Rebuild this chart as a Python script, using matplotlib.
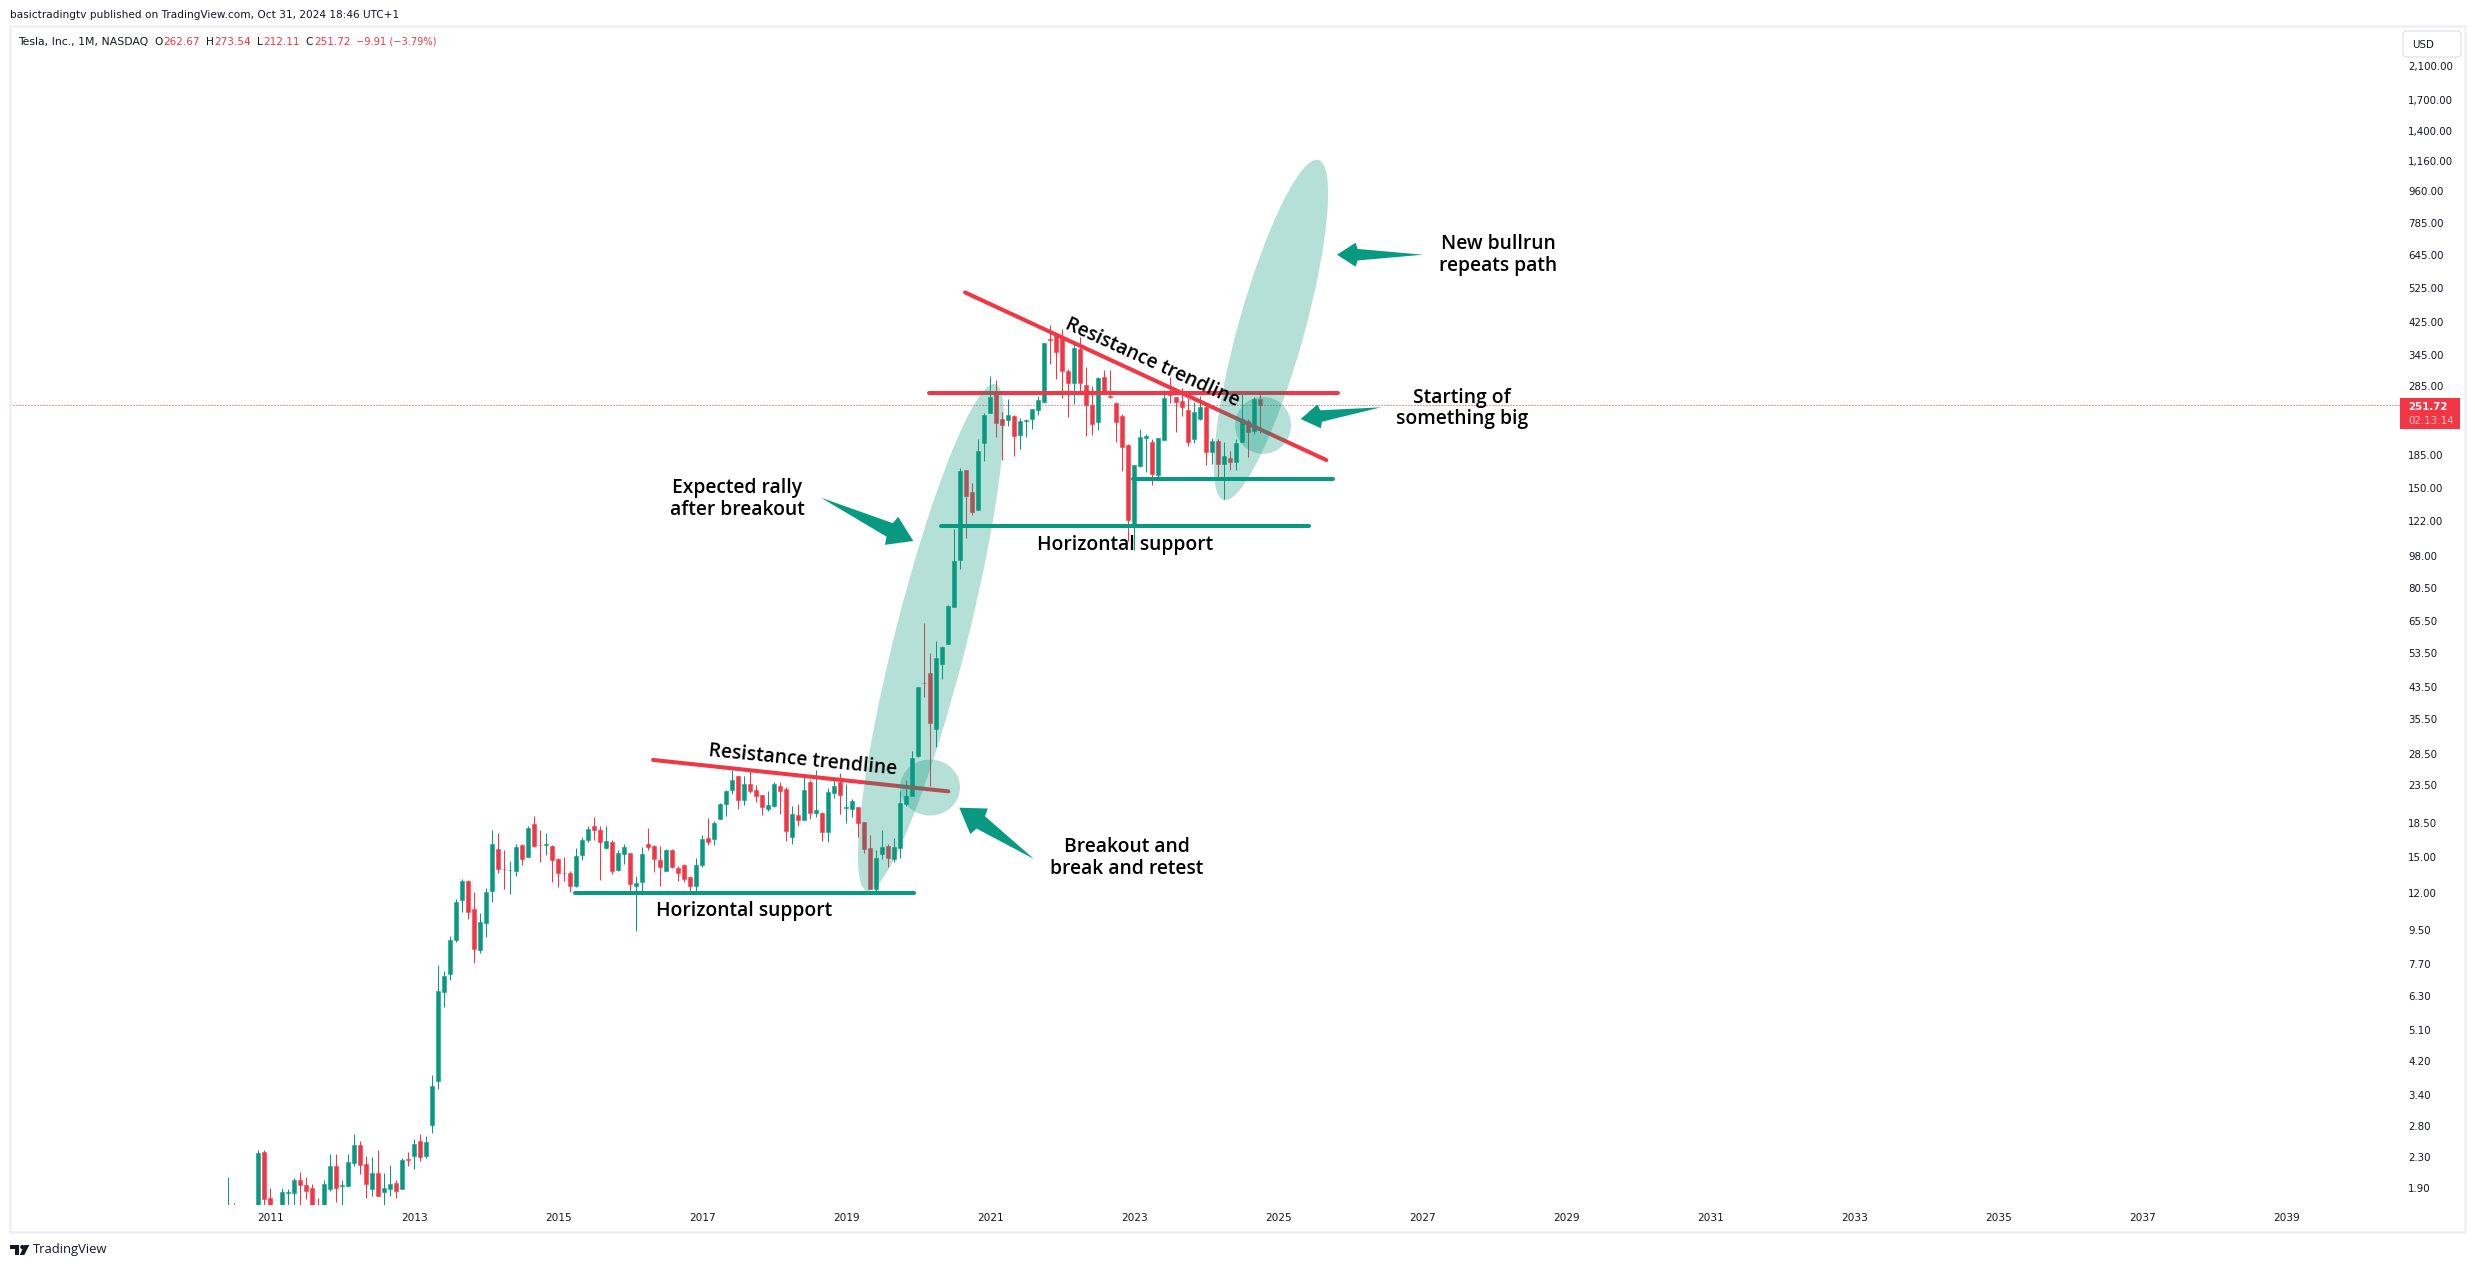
import numpy as np
import matplotlib
matplotlib.use("Agg")
import matplotlib.pyplot as plt
from matplotlib.patches import Ellipse, Polygon, Rectangle, Circle, FancyBboxPatch

# Monthly TSLA candles, Jun 2010 .. Oct 2024
opens = [1.27, 1.60, 1.46, 1.31, 1.37, 1.45, 2.38, 1.78, 1.60, 1.60, 1.84, 1.84, 1.99, 1.93, 1.90, 1.65,
         1.62, 1.89, 2.18, 1.92, 1.92, 2.22, 2.48, 2.20, 1.89, 2.08, 1.85, 1.89, 1.96, 1.88, 2.27, 2.32,
         2.54, 2.32, 2.81, 3.71, 6.45, 7.22, 8.94, 11.48, 12.93, 10.86, 8.40, 9.94, 12.13, 15.80, 13.92, 13.80,
         13.76, 16.20, 15.00, 18.40, 16.20, 16.20, 16.10, 14.85, 13.60, 13.53, 12.55, 15.20, 16.70, 18.15, 17.80, 15.90,
         16.50, 13.85, 15.30, 15.40, 12.55, 12.85, 16.30, 16.10, 14.70, 13.70, 15.70, 14.00, 14.25, 13.20, 12.50, 14.25,
         16.90, 16.80, 19.00, 20.90, 22.80, 24.80, 21.40, 23.70, 22.80, 22.10, 20.20, 20.60, 23.40, 23.00, 17.00, 19.50,
         18.90, 24.00, 19.80, 19.80, 17.50, 22.40, 24.00, 20.40, 20.20, 20.50, 18.70, 15.90, 12.30, 15.30, 16.10, 14.80,
         15.90, 20.90, 21.90, 28.20, 44.60, 47.30, 33.40, 50.10, 56.70, 71.50, 95.90, 168.5, 147, 131, 199, 240,
         272, 231, 230, 236, 209, 229, 231, 245, 258, 381, 391, 384, 313, 289, 358, 286,
         252, 227, 301, 267, 255, 235, 197, 118.5, 173, 206, 200, 163, 203, 275, 266, 259,
         245, 204, 232, 250, 188, 202, 175, 181, 177, 200, 228, 214, 262.67]
highs = [2.03, 1.73, 1.50, 1.45, 1.50, 2.40, 2.41, 1.90, 1.68, 1.90, 1.88, 2.02, 2.10, 2.03, 1.94, 1.78,
         1.99, 2.34, 2.34, 1.99, 2.34, 2.65, 2.55, 2.32, 2.30, 2.40, 2.08, 2.19, 2.00, 2.29, 2.38, 2.57,
         2.65, 2.62, 3.85, 7.65, 7.36, 9.17, 11.55, 13.04, 12.98, 12.06, 10.55, 12.38, 17.71, 17.37, 15.70, 14.60,
         16.30, 16.30, 18.15, 19.40, 17.70, 17.37, 16.20, 14.95, 15.00, 13.76, 15.90, 16.95, 18.15, 19.20, 18.15, 18.15,
         16.70, 15.70, 16.30, 15.40, 13.30, 16.00, 18.00, 16.20, 16.10, 15.80, 15.80, 14.20, 14.40, 13.30, 14.95, 17.20,
         19.10, 18.80, 21.00, 22.80, 25.80, 24.80, 24.80, 25.60, 23.50, 22.10, 22.70, 24.00, 23.90, 23.20, 20.60, 20.90,
         24.90, 24.30, 25.80, 19.90, 23.10, 24.40, 25.30, 23.60, 21.50, 20.50, 18.70, 17.20, 15.70, 17.70, 16.30, 16.90,
         22.70, 24.20, 29.00, 43.40, 64.70, 53.60, 57.80, 56.00, 72.40, 116.4, 170, 168.5, 155, 204, 240, 302,
         295, 241, 262, 237, 233, 231.5, 246, 267, 373, 416, 393, 406, 317, 372, 386, 320,
         285, 301, 315, 315, 257, 238, 198, 174, 218, 210, 204, 206, 278, 300, 266, 281,
         263, 257, 267, 251, 205, 204, 200, 189, 204, 272, 232, 265, 273.54]
lows = [1.17, 1.31, 1.20, 1.29, 1.35, 1.40, 1.62, 1.50, 1.45, 1.55, 1.60, 1.65, 1.65, 1.77, 1.55, 1.50,
        1.55, 1.86, 1.74, 1.65, 1.92, 2.18, 2.07, 1.78, 1.80, 1.81, 1.65, 1.81, 1.78, 1.88, 2.18, 2.14,
        2.25, 2.29, 2.68, 3.51, 5.88, 6.96, 8.83, 10.62, 10.20, 7.74, 8.24, 9.11, 11.31, 13.53, 12.30, 11.90,
        13.28, 14.30, 15.00, 16.00, 14.50, 15.20, 12.85, 12.40, 12.90, 12.07, 12.40, 14.70, 16.50, 16.70, 13.00, 15.80,
        13.50, 13.76, 14.40, 12.13, 9.42, 12.13, 15.65, 13.64, 12.55, 13.70, 14.00, 12.90, 12.85, 11.95, 12.07, 14.10,
        16.20, 16.20, 19.00, 19.40, 22.20, 20.20, 20.80, 22.40, 21.20, 19.50, 20.00, 20.50, 19.60, 16.60, 16.30, 18.20,
        18.90, 19.00, 19.20, 16.60, 16.50, 21.70, 19.60, 18.60, 19.20, 17.00, 15.40, 12.30, 12.00, 14.80, 14.10, 14.50,
        14.90, 20.60, 21.90, 28.00, 40.70, 23.40, 29.80, 45.60, 56.70, 71.50, 90.60, 110, 127, 131, 178, 240,
        207, 179, 221, 184, 192, 207, 217, 237, 255, 327, 297, 264, 234, 254, 275, 208,
        209, 216, 270, 264, 200, 167, 108, 101.8, 171, 166, 153, 160, 203, 256, 213, 236,
        195, 199, 230, 174, 175, 159, 140, 168, 168, 200, 182, 211, 212.11]
closes = [1.59, 1.46, 1.30, 1.36, 1.46, 2.36, 1.77, 1.60, 1.59, 1.85, 1.85, 2.00, 1.93, 1.86, 1.60, 1.62,
          1.95, 2.18, 1.90, 1.93, 2.23, 2.48, 2.19, 1.95, 2.08, 1.81, 1.90, 1.95, 1.86, 2.26, 2.26, 2.50,
          2.30, 2.53, 3.58, 6.50, 7.14, 8.94, 11.29, 12.93, 10.62, 8.45, 10.00, 12.06, 16.31, 13.89, 13.90, 13.82,
          16.00, 14.83, 18.00, 16.10, 16.15, 16.30, 14.70, 13.53, 13.55, 12.55, 15.13, 16.70, 17.90, 17.70, 16.50, 16.60,
          13.76, 15.40, 16.00, 12.68, 12.76, 15.30, 16.00, 14.85, 14.10, 15.70, 14.10, 13.53, 13.10, 12.55, 14.30, 16.80,
          16.50, 18.50, 20.90, 22.70, 24.20, 21.40, 23.70, 22.70, 22.00, 20.50, 20.80, 23.70, 22.70, 17.60, 19.60, 18.90,
          22.80, 19.80, 20.10, 17.50, 22.50, 23.40, 22.10, 20.45, 21.30, 18.50, 15.80, 12.30, 14.90, 16.00, 14.90, 16.00,
          21.00, 22.00, 27.90, 43.30, 44.40, 34.60, 52.00, 55.70, 71.90, 95.30, 167.5, 143, 129.5, 190, 237, 265,
          225, 223, 237, 208, 228, 229.5, 246, 260, 373, 380, 352, 312, 289, 360, 289, 252,
          224, 299, 275, 265, 227, 194, 123, 174, 207, 208, 164, 206, 263, 269, 257, 250,
          200, 241, 249, 188, 202, 175, 184, 177, 199, 232, 213, 262, 251.72]

# labels along the axes
price_ticks = [2100, 1700, 1400, 1160, 960, 785, 645, 525, 425, 345, 285, 185, 150, 122, 98, 80.5, 65.5,
               53.5, 43.5, 35.5, 28.5, 23.5, 18.5, 15, 12, 9.5, 7.7, 6.3, 5.1, 4.2, 3.4, 2.8, 2.3, 1.9]
years = list(range(2011, 2040, 2))
last_close = closes[-1]

GREEN = "#089981"
RED = "#F23645"
DARK = "#131722"
FRAME = "#EEEFF5"
W, H = 2475, 1268
TEXT_FONT = ["Open Sans", "DejaVu Sans"]

fig = plt.figure(figsize=(W / 100, H / 100), dpi=100, facecolor="white")

# chart pane, x is the bar number (0 = Jun 2010, 6 px per bar)
left, right, top, bottom = 10, 2400, 27, 1205
ax = fig.add_axes([left / W, 1 - bottom / H, (right - left) / W, (bottom - top) / H])
ax.set_yscale("log")
ax.set_xlim((left - 228.3) / 6, (right - 228.3) / 6)
ax.set_ylim(1.706, 2677)
for s in ax.spines.values():
    s.set_visible(False)

bars = np.arange(len(closes))
o = np.array(opens)
c = np.array(closes)
colors = [GREEN if cl >= op else RED for op, cl in zip(opens, closes)]
ax.vlines(bars, lows, highs, colors=colors, linewidth=0.72, zorder=2)
ax.bar(bars, np.abs(c - o), bottom=np.minimum(o, c), width=0.72, color=colors, edgecolor=colors, linewidth=0.36, zorder=3)

# last price line
ax.axhline(last_close, color=RED, lw=0.72, ls=(0, (1, 2)), zorder=1)

# trendlines and supports: bar number, price
def level(x0, p0, x1, p1, color):
    ax.plot([x0, x1], [p0, p1], color=color, lw=2.9, solid_capstyle="round", zorder=4)

level(70.8, 27.5, 120, 22.6, RED)
level(122.8, 510, 183, 179, RED)
level(116.8, 272, 185, 272, RED)
level(57.8, 11.95, 114.2, 11.95, GREEN)
level(118.8, 118.4, 180.2, 118.4, GREEN)
level(150.8, 159, 184.2, 159, GREEN)

ax.yaxis.tick_right()
ax.set_yticks(price_ticks)
ax.set_yticklabels([f"{p:,.2f}" for p in price_ticks], fontsize=7.4, color=DARK)
ax.minorticks_off()
ax.tick_params(axis="y", length=0, pad=5.8)
ax.set_xticks([(y - 2010) * 12 - 5 for y in years])
ax.set_xticklabels(years, fontsize=7.6, color=DARK)
ax.tick_params(axis="x", length=0, pad=5.5)

# everything else is placed in picture pixels
ov = fig.add_axes([0, 0, 1, 1], facecolor="none")
ov.set_xlim(0, W)
ov.set_ylim(H, 0)
ov.axis("off")

ov.add_patch(Rectangle((10, 26), 2455, 1206, fill=False, ec=FRAME, lw=1.8))

# highlighted zones
zone = dict(fc=GREEN, ec="none", alpha=0.3, zorder=5)
ov.add_patch(Ellipse((931, 637.5), 72, 523, angle=14.2, **zone))
ov.add_patch(Ellipse((1271, 330), 66, 353, angle=15.6, **zone))
ov.add_patch(Ellipse((930, 787.5), 60, 56, **zone))
ov.add_patch(Ellipse((1263, 425.3), 56, 57, **zone))


def arrow(tail, tip, head):
    tail = np.array(tail, float)
    tip = np.array(tip, float)
    d = tip - tail
    u = d / np.hypot(*d)
    v = np.array([-u[1], u[0]])
    back = head * 1.55
    pts = [tail, tip - (back + 2) * u + head * 0.48 * v, tip - back * u + head * v, tip,
           tip - back * u - head * v, tip - (back + 2) * u - head * 0.48 * v]
    ov.add_patch(Polygon(pts, closed=True, fc=GREEN, ec="none", zorder=6))


arrow((821, 497.7), (913.3, 541), 15.5)
arrow((1034, 859), (959.3, 807.7), 15.5)
arrow((1423, 254.7), (1337, 254.7), 12)
arrow((1381, 407.3), (1300.7, 419), 12)

note = dict(ha="center", va="center", fontsize=13.9, fontweight=600, family=TEXT_FONT, color="black",
            rotation_mode="anchor", linespacing=1.12, zorder=7)
ov.text(1498, 255, "New bullrun\nrepeats path", **note)
ov.text(1462, 408.5, "Starting of\nsomething big", **note)
ov.text(737.5, 499, "Expected rally\nafter breakout", **note)
ov.text(1127, 858, "Breakout and\nbreak and retest", **note)
ov.text(1125.5, 545, "Horizontal support", **note)
ov.text(744.5, 911, "Horizontal support", **note)
ov.text(802.5, 760, "Resistance trendline", rotation=-5.6, **note)
ov.text(1152, 362.5, "Resistance trendline", rotation=-24.5, **note)

# header
ov.text(10, 15, "basictradingtv published on TradingView.com, Oct 31, 2024 18:46 UTC+1", fontsize=7.6, color=DARK, va="center")
ov.text(18, 42, "Tesla, Inc., 1M, NASDAQ", fontsize=7.8, color=DARK, va="center")
for x, letter in [(154, "O"), (205.7, "H"), (256.7, "L"), (305.7, "C")]:
    ov.text(x, 42, letter, fontsize=7.6, color=DARK, va="center")
for x, val in [(163, "262.67"), (214, "273.54"), (263, "212.11"), (314, "251.72")]:
    ov.text(x, 42, val, fontsize=7.6, color=RED, va="center")
ov.text(356, 42, "−9.91 (−3.79%)", fontsize=7.1, color=RED, va="center")

# USD box and last price label
ov.add_patch(FancyBboxPatch((2403, 31), 58, 26, boxstyle="round,pad=0,rounding_size=4", fc="white", ec="#E0E3EB", lw=0.9))
ov.text(2412, 44.5, "USD", fontsize=7.4, color=DARK, va="center")
ov.add_patch(Rectangle((2400, 397.7), 60, 31.3, fc=RED, ec="none", zorder=6))
ov.text(2408, 407, "251.72", fontsize=7.4, color="white", fontweight="bold", va="center", zorder=7)
ov.text(2408, 421, "02:13:14", fontsize=7.4, color="#FBC3C8", va="center", zorder=7)

# footer logo
ov.add_patch(Polygon([(10, 1245), (19, 1245), (19, 1255), (15, 1255), (15, 1249), (10, 1249)], fc=DARK, ec="none"))
ov.add_patch(Circle((22.3, 1247), 2.1, fc=DARK, ec="none"))
ov.add_patch(Polygon([(24.5, 1245), (29.3, 1245), (24.3, 1255), (19.8, 1255)], fc=DARK, ec="none"))
ov.text(33, 1250, "TradingView", fontsize=9.4, color=DARK, va="center", family=["Open Sans", "DejaVu Sans"])

fig.savefig("out.png", dpi=100)
